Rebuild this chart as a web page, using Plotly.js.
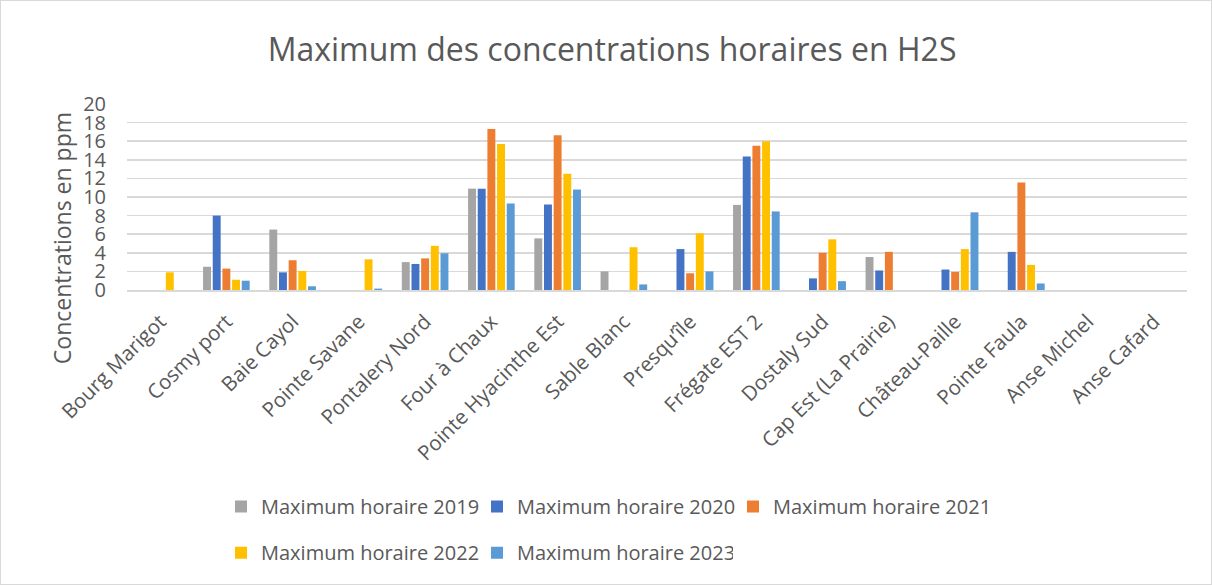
<!DOCTYPE html>
<html>
<head>
<meta charset="utf-8">
<script src="https://cdn.plot.ly/plotly-3.0.1.min.js"></script>
<style>
html,body{margin:0;padding:0;background:#fff;}
#chart{width:1210px;height:583px;border:1px solid #d9d9d9;}
</style>
</head>
<body>
<div id="chart"></div>
<script>
const categories = ["Bourg Marigot","Cosmy port","Baie Cayol","Pointe Savane","Pontalery Nord","Four à Chaux","Pointe Hyacinthe Est","Sable Blanc","Presqu\u2019île","Frégate EST 2","Dostaly Sud","Cap Est (La Prairie)","Château-Paille","Pointe Faula","Anse Michel","Anse Cafard"];
const seriesNames = ["Maximum horaire 2019","Maximum horaire 2020","Maximum horaire 2021","Maximum horaire 2022","Maximum horaire 2023"];
const max2019 = [null,2.5,6.5,null,3.0,10.9,5.55,2.0,null,9.15,null,3.55,null,null,null,null];
const max2020 = [null,8.0,1.9,null,2.8,10.9,9.2,null,4.4,14.35,1.25,2.1,2.2,4.1,null,null];
const max2021 = [null,2.3,3.2,null,3.4,17.3,16.65,null,1.8,15.5,4.0,4.1,1.95,11.55,null,null];
const max2022 = [1.9,1.1,2.05,3.3,4.75,15.7,12.5,4.6,6.1,16.0,5.45,null,4.4,2.7,null,null];
const max2023 = [null,1.0,0.4,0.15,3.95,9.3,10.8,0.6,2.0,8.45,0.95,null,8.35,0.7,null,null];
const yTicks = [0,2,4,6,8,10,12,14,16,18,20];
const yTitle = "Concentrations en ppm";
const chartTitle = "Maximum des concentrations horaires en H2S";

const colors = ["#A5A5A5","#4472C4","#ED7D31","#FFC000","#5B9BD5"];
const values = [max2019,max2020,max2021,max2022,max2023];
const legends = ["legend","legend","legend","legend2","legend2"];

const traces = values.map((v,i)=>({
  type:"bar", name:seriesNames[i], x:categories, y:v,
  marker:{color:colors[i]}, legend:legends[i], hoverinfo:"skip"
}));

const font = "Open Sans, sans-serif";
const txt = "#595959";
const layout = {
  width:1210, height:583,
  margin:{l:126, r:24, t:103, b:290, pad:0},
  paper_bgcolor:"#fff", plot_bgcolor:"#fff",
  font:{family:font, color:txt},
  title:{text:chartTitle, font:{size:32, color:txt, family:font}, x:0.505, xanchor:"center", y:0.916, yanchor:"middle", yref:"container"},
  barmode:"group", bargap:0.27, bargroupgap:0.18,
  xaxis:{type:"category", tickangle:-45, tickfont:{size:20.5, color:txt}, showgrid:false, showline:true, linecolor:"#d9d9d9", linewidth:1.5, ticks:"", ticklabelstandoff:10, automargin:false},
  yaxis:{range:[0,20], tickvals:yTicks, tickfont:{size:20, color:txt}, gridcolor:"#d9d9d9", gridwidth:1.6, zeroline:false, showline:false, ticks:"", ticklabelstandoff:20, automargin:false},
  annotations:[{text:yTitle, textangle:-90, xref:"paper", yref:"paper", x:-0.0613, y:0.279, xanchor:"center", yanchor:"middle", showarrow:false, font:{size:23, color:txt, family:font}}],
  showlegend:true,
  legend:{orientation:"h", x:0.0887, xanchor:"left", y:-1.164, yanchor:"middle", font:{size:20, color:txt}, itemwidth:30, entrywidth:211, traceorder:"normal"},
  legend2:{orientation:"h", x:0.0887, xanchor:"left", y:-1.412, yanchor:"middle", font:{size:20, color:txt}, itemwidth:30, entrywidth:211, traceorder:"normal"}
};
Plotly.newPlot("chart", traces, layout, {displayModeBar:false, staticPlot:true});
</script>
</body>
</html>
